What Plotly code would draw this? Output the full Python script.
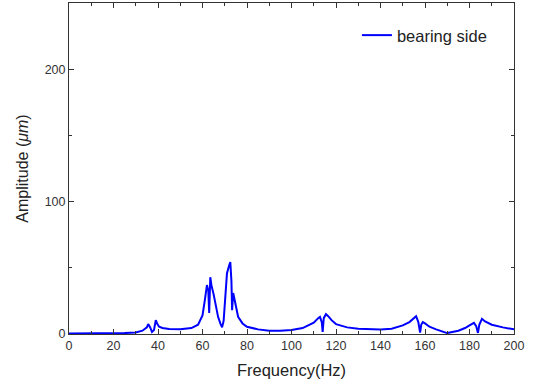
import plotly.graph_objects as go

freq = [0, 5, 10, 15, 20, 25, 30, 33, 35, 35.6, 36.5, 37.3, 38.2, 39, 39.6, 40.5, 42, 45, 50, 55, 58, 60, 61, 62, 62.6, 63, 63.5, 64, 65, 66, 67, 68, 68.8,
        69.5, 70, 70.5, 71, 72, 72.5, 73, 73.3, 73.8, 74.5, 75, 76, 78, 80, 85, 90, 95, 100, 105, 110, 112, 112.8, 113.6, 114, 114.5, 115.5, 116.5, 118,
        120, 125, 130, 140, 145, 150, 153, 155, 156, 157, 157.8, 158.3, 159, 160, 162, 165, 170, 175, 178, 180, 182, 183, 183.8, 184.4, 185.6, 187, 190, 195, 200]
amp = [0.3, 0.3, 0.3, 0.3, 0.4, 0.7, 1.2, 2.5, 5, 7.5, 5, 1.5, 3, 10.5, 8, 5.5, 4.5, 3.8, 3.6, 4.5, 7, 14, 25, 37, 33, 16, 43, 37, 30, 21, 13, 8, 5,
       10, 22, 40, 46, 52, 54.5, 40, 18, 31, 26, 20, 13, 8, 5.5, 3.5, 2.5, 2.5, 3, 4.5, 8.5, 12, 13, 9, 1.5, 12, 15, 13.5, 10.5,
       7.5, 5, 4, 3.5, 4, 6.5, 9, 12, 13.5, 9, 1, 7, 9, 8, 5.5, 3.5, 0.7, 2.5, 4.5, 6.5, 8.5, 6, 0.8, 7, 11.5, 9.5, 7, 5, 3.5]

fig = go.Figure()
fig.add_trace(go.Scatter(x=freq, y=amp, mode="lines", name="bearing side",
                         line=dict(color="#0000ff", width=2)))

axis_common = dict(showline=True, linecolor="#333333", linewidth=1, mirror="allticks",
                   ticks="inside", ticklen=5, tickcolor="#333333", showgrid=False, zeroline=False,
                   tickfont=dict(family="Liberation Sans, Arial", size=12.5, color="#333333"))

fig.update_xaxes(range=[0, 200], tickvals=[0, 20, 40, 60, 80, 100, 120, 140, 160, 180, 200],
                 minor=dict(dtick=10, tick0=0, ticks="inside", ticklen=3, tickcolor="#333333"),
                 title=dict(text="Frequency(Hz)", font=dict(family="Liberation Sans, Arial", size=16.5, color="#222222"), standoff=12),
                 **axis_common)
fig.update_yaxes(range=[0, 250.5], tickvals=[0, 100, 200],
                 minor=dict(dtick=50, tick0=0, ticks="inside", ticklen=3, tickcolor="#333333"),
                 title=dict(text="Amplitude (<i>μm</i>)", font=dict(family="Liberation Sans, Arial", size=16, color="#222222"), standoff=12),
                 **axis_common)

fig.update_layout(width=533, height=384, margin=dict(l=69, r=19, t=3, b=50),
                  plot_bgcolor="white", paper_bgcolor="white",
                  showlegend=True,
                  legend=dict(x=0.647, y=0.955, xanchor="left", yanchor="top", bgcolor="rgba(0,0,0,0)",
                              font=dict(family="Liberation Sans, Arial", size=16.5, color="#222222")))

fig.write_html("out.html")
